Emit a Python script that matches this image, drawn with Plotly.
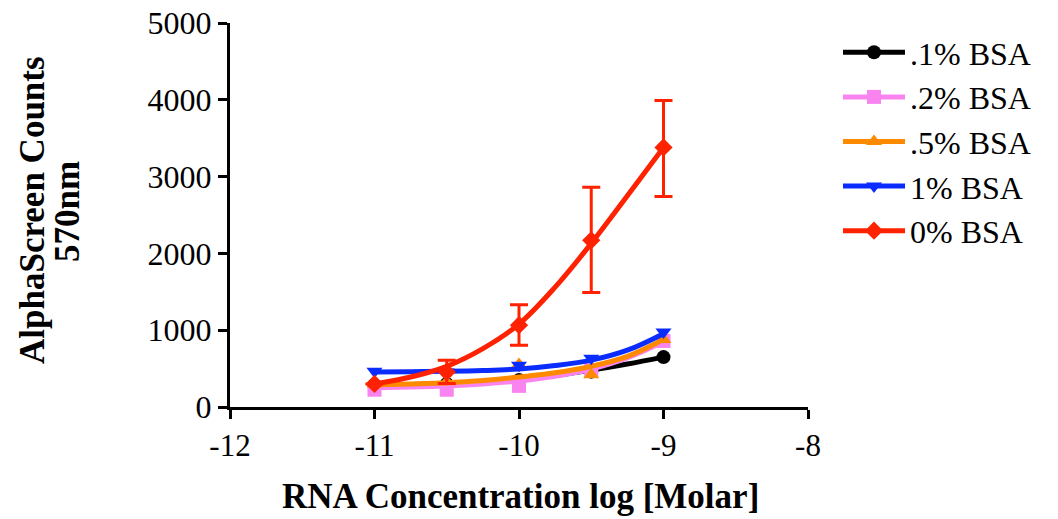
import plotly.graph_objects as go

# measured data points
x_log_molar = [-11, -10.5, -10, -9.5, -9]
series_names = [".1% BSA", ".2% BSA", ".5% BSA", "1% BSA", "0% BSA"]
bsa_01 = [285, 300, 350, 460, 650]
bsa_02 = [225, 225, 275, 480, 860]
bsa_05 = [300, 330, 555, 420, 880]
bsa_1 = [465, 455, 545, 635, 975]
bsa_0 = [300, 455, 1065, 2170, 3380]
bsa_0_err_plus = [0, 155, 265, 690, 610]
bsa_0_err_minus = [0, 150, 260, 680, 640]

# fitted curves
x_fit = [-11, -10.75, -10.5, -10.25, -10, -9.75, -9.5, -9.25, -9]
fit_01 = [280, 290, 305, 330, 360, 410, 480, 560, 650]
fit_02 = [250, 260, 275, 300, 340, 400, 495, 640, 850]
fit_05 = [290, 300, 315, 345, 390, 445, 530, 660, 880]
fit_1 = [455, 460, 465, 475, 495, 540, 610, 740, 955]
fit_0 = [300, 390, 530, 760, 1080, 1560, 2130, 2750, 3380]

x_tickvals = [-12, -11, -10, -9, -8]
x_ticktext = ["-12", "-11", "-10", "-9", "-8"]
y_tickvals = [0, 1000, 2000, 3000, 4000, 5000]
y_ticktext = ["0", "1000", "2000", "3000", "4000", "5000"]

colors = ["#000000", "#f984f0", "#ff8a00", "#0a2cff", "#ff2200"]
symbols = ["circle", "square", "triangle-up", "triangle-down", "diamond"]
values = [bsa_01, bsa_02, bsa_05, bsa_1, bsa_0]
fits = [fit_01, fit_02, fit_05, fit_1, fit_0]

FONT = "Liberation Serif, Times New Roman, serif"

fig = go.Figure()
for i, (name, vals, fit) in enumerate(zip(series_names, values, fits)):
    fig.add_trace(go.Scatter(
        x=x_fit, y=fit, mode="lines", showlegend=False, legendgroup=name,
        line=dict(color=colors[i], width=5, shape="spline", smoothing=1.0),
        hoverinfo="skip"))
    kw = {}
    if name == "0% BSA":
        kw["error_y"] = dict(type="data", symmetric=False, array=bsa_0_err_plus,
                             arrayminus=bsa_0_err_minus, color=colors[i],
                             thickness=3, width=9)
    fig.add_trace(go.Scatter(
        x=x_log_molar, y=vals, name=name, mode="markers", showlegend=False,
        legendgroup=name,
        marker=dict(color=colors[i], symbol=symbols[i], size=14), **kw))
    fig.add_trace(go.Scatter(
        x=[None], y=[None], name=name, mode="lines+markers", legendgroup=name,
        line=dict(color=colors[i], width=5),
        marker=dict(color=colors[i], symbol=symbols[i], size=14)))

# page has an 8px body margin; work in figure coordinates
OFF = 8
W, H = 1058 - OFF, 519 - OFF
PLOT_L, PLOT_R, PLOT_T, PLOT_B = 230 - OFF, 808 - OFF, 23 - OFF, 407 - OFF
pw, ph = PLOT_R - PLOT_L, PLOT_B - PLOT_T

def px(xp):
    return (xp - OFF - PLOT_L) / pw

def py(yp):
    return (PLOT_B - (yp - OFF)) / ph

fig.update_layout(
    template="none",
    width=W, height=H,
    margin=dict(l=PLOT_L, r=W - PLOT_R, t=PLOT_T, b=H - PLOT_B, pad=0),
    paper_bgcolor="white", plot_bgcolor="white",
    font=dict(family=FONT, size=31, color="black"),
    showlegend=True,
    legend=dict(x=px(838), y=py(25), xanchor="left", yanchor="top",
                font=dict(family=FONT, size=32, color="black"),
                tracegroupgap=0, itemwidth=62, traceorder="normal",
                bgcolor="rgba(0,0,0,0)"),
    xaxis=dict(range=[-12, -8], tickmode="array", tickvals=x_tickvals,
               ticktext=x_ticktext, automargin=False, ticklabeloverflow="allow",
               showgrid=False, zeroline=False, showline=True, linecolor="black",
               linewidth=3, ticks="outside", ticklen=9, tickwidth=3,
               tickcolor="black", tickfont=dict(size=31)),
    yaxis=dict(range=[0, 5000], tickmode="array", tickvals=y_tickvals,
               ticktext=y_ticktext, automargin=False, ticklabeloverflow="allow",
               showgrid=False, zeroline=False, showline=True, linecolor="black",
               linewidth=3, ticks="outside", ticklen=9, tickwidth=3,
               tickcolor="black", tickfont=dict(size=32)),
    annotations=[
        dict(text="<b>RNA Concentration log [Molar]</b>", xref="paper",
             yref="paper", x=px(520), y=py(496), xanchor="center",
             yanchor="middle", showarrow=False, font=dict(size=35)),
        dict(text="<b>AlphaScreen Counts</b>", xref="paper", yref="paper",
             x=px(32), y=py(210), xanchor="center", yanchor="middle",
             textangle=-90, showarrow=False, font=dict(size=35)),
        dict(text="<b>570nm</b>", xref="paper", yref="paper",
             x=px(67), y=py(212), xanchor="center", yanchor="middle",
             textangle=-90, showarrow=False, font=dict(size=35)),
    ],
)

fig.write_html("out.html")
